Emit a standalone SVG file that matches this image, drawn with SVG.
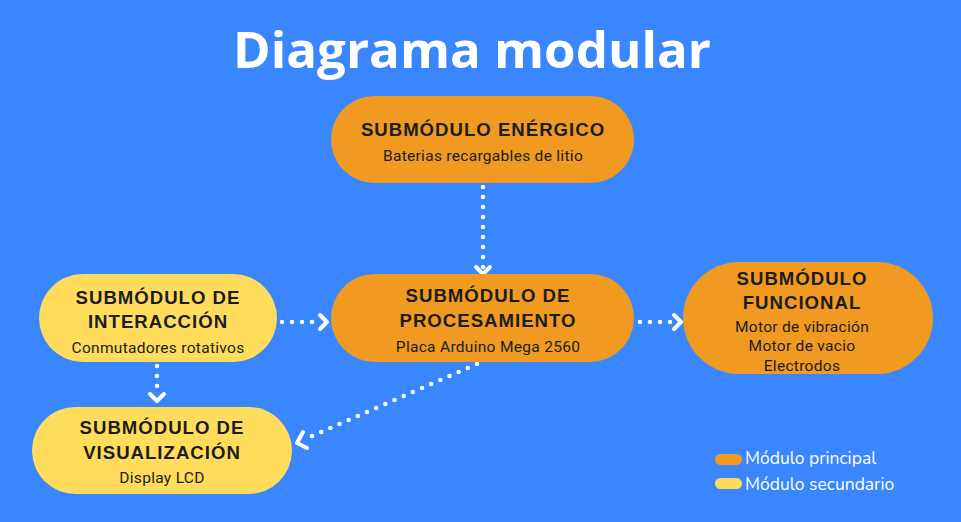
<svg xmlns="http://www.w3.org/2000/svg" width="961" height="522" viewBox="0 0 961 522">
<style>
.main{fill:#f09a22}
.sec{fill:#ffdc5c}
.t{font-family:"Liberation Sans",Arial,sans-serif;font-weight:bold;font-size:18.6px;fill:#1c1c1c;text-anchor:middle;letter-spacing:1px}
.s{font-family:Roboto,"Liberation Sans",sans-serif;font-size:15.5px;fill:#1c1c1c;text-anchor:middle;letter-spacing:0.3px}
.dot{fill:none;stroke:#fff;stroke-width:4.5;stroke-linecap:round;stroke-dasharray:0 10}
.hd{fill:none;stroke:#fff;stroke-width:4;stroke-linecap:round;stroke-linejoin:round}
.lg{font-family:"Nunito","Open Sans","Liberation Sans",sans-serif;font-size:17.5px;fill:#fff}
</style>
<rect width="961" height="522" fill="#3a86ff"/>
<text x="472" y="68" font-family="'Open Sans','Liberation Sans',sans-serif" font-weight="bold" font-size="51" fill="#fff" text-anchor="middle">Diagrama modular</text>
<g id="connectors">
<line class="dot" x1="483" y1="187" x2="483" y2="270"/>
<polyline class="hd" points="476,267 483,274 490,267"/>
<line class="dot" x1="282" y1="322" x2="318" y2="322"/>
<polyline class="hd" points="320,315 327,322 320,329"/>
<line class="dot" x1="640" y1="322" x2="672" y2="322"/>
<polyline class="hd" points="674,315 681,322 674,329"/>
<line class="dot" x1="157" y1="366" x2="157" y2="390"/>
<polyline class="hd" points="150,394 157,401 164,394"/>
<line class="dot" x1="477" y1="364" x2="305" y2="439"/>
<polyline class="hd" points="303,432 297,443 307,448"/>
</g>
<g id="energetico">
<rect class="main" x="331" y="96" width="303" height="87" rx="43.5"/>
<text class="t" x="483" y="136">SUBMÓDULO ENÉRGICO</text>
<text class="s" x="483" y="161">Baterias recargables de litio</text>
</g>
<g id="procesamiento">
<rect class="main" x="331" y="274" width="303" height="88" rx="44"/>
<text class="t" x="488" y="302">SUBMÓDULO DE</text>
<text class="t" x="488" y="327">PROCESAMIENTO</text>
<text class="s" x="488" y="352">Placa Arduino Mega 2560</text>
</g>
<g id="interaccion">
<rect class="sec" x="39" y="274" width="238" height="88" rx="44"/>
<text class="t" x="158" y="304">SUBMÓDULO DE</text>
<text class="t" x="158" y="328">INTERACCIÓN</text>
<text class="s" x="158" y="353">Conmutadores rotativos</text>
</g>
<g id="visualizacion">
<rect class="sec" x="32" y="407" width="260" height="87" rx="43.5"/>
<text class="t" x="162" y="434">SUBMÓDULO DE</text>
<text class="t" x="162" y="459">VISUALIZACIÓN</text>
<text class="s" x="162" y="483">Display LCD</text>
</g>
<g id="funcional">
<rect class="main" x="683" y="262" width="250" height="112" rx="56"/>
<text class="t" x="802" y="285">SUBMÓDULO</text>
<text class="t" x="802" y="309">FUNCIONAL</text>
<text class="s" x="802" y="332">Motor de vibración</text>
<text class="s" x="802" y="351">Motor de vacio</text>
<text class="s" x="802" y="371">Electrodos</text>
</g>
<g id="legend">
<rect class="main" x="715" y="454" width="27" height="11" rx="5.5"/>
<text class="lg" x="745" y="464">Módulo principal</text>
<rect class="sec" x="715" y="478" width="27" height="11" rx="5.5"/>
<text class="lg" x="745" y="490">Módulo secundario</text>
</g>
</svg>
